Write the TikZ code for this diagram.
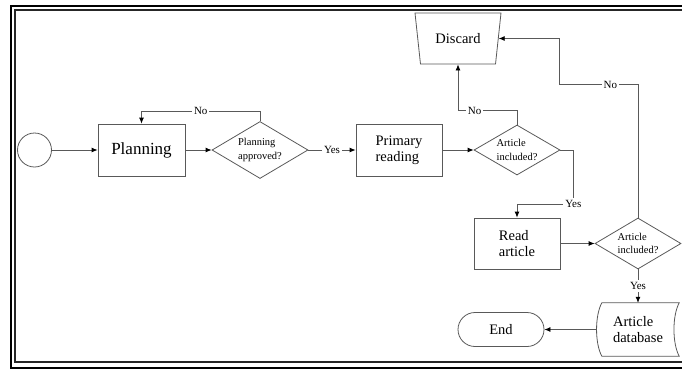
\documentclass[tikz,border=0pt]{standalone}
\usepackage{fontspec}
\setmainfont{Liberation Serif}
\usetikzlibrary{positioning,shapes.geometric,arrows.meta}

\begin{document}
\begin{tikzpicture}[x=1pt,y=-1pt,
    box/.style={draw=black!65,line width=0.8pt,rectangle,minimum width=86pt,minimum height=52pt,align=left,font=\fontsize{14.5}{16}\selectfont},
    decision/.style={draw=black!65,line width=0.8pt,diamond,aspect=1.7,inner sep=0pt,align=left,font=\fontsize{10.5}{13.5}\selectfont},
    line/.style={draw=black!65,line width=0.8pt},
    arr/.style={-{Latex[black,length=6pt,width=5pt]}},
    lbl/.style={fill=white,inner sep=2pt,font=\fontsize{11}{12}\selectfont}]
    \useasboundingbox (0,0) rectangle (682,370);
    \clip (0,0) rectangle (682,370);
    % frame
    \draw[line width=2.3pt] (11,6) rectangle (720,368);
    \draw[black!85,line width=1.3pt] (15,10) rectangle (720,362);

        \node[draw=black!65,line width=0.8pt,circle,minimum size=34pt] (start) at (34.5,150) {};
        \node[box,minimum width=87pt,font=\fontsize{17}{19}\selectfont,right of=start,node distance=107pt] (plan) {Planning};
        \node[decision,minimum width=96pt,minimum height=57pt,right of=plan,node distance=118.5pt] (appr) {Planning\\approved?};
        \node[box,right of=appr,node distance=139pt] (prim) {Primary\\reading};
        \node[decision,minimum width=86pt,minimum height=50pt,right of=prim,node distance=118pt] (inc1) {Article\\included?};
        \node[draw=black!65,line width=0.8pt,trapezium,trapezium angle=72,trapezium stretches body=true,shape border rotate=180,minimum width=86pt,minimum height=51pt,font=\fontsize{14.5}{16}\selectfont] (disc) at (458,38.5) {Discard};
        \node[box,minimum height=51pt,below of=inc1,node distance=93.5pt] (read) {Read\\article};
        \node[decision,minimum width=86pt,minimum height=51pt,right of=read,node distance=121pt] (inc2) {Article\\included?};
        \node[minimum width=82pt,minimum height=53pt,align=left,font=\fontsize{14.5}{16}\selectfont,below of=inc2,node distance=86pt] (db) {Article\\database};
        \node[draw=black!65,line width=0.8pt,rounded corners=17pt,minimum width=86pt,minimum height=34pt,font=\fontsize{14.5}{16}\selectfont,left of=db,node distance=137pt] (endn) {End};

        % stored data outline
        \draw[line] ([xshift=5pt]db.north west) -- (db.north east) .. controls +(-7,13) and +(-7,-13) .. (db.south east) -- ([xshift=5pt]db.south west) .. controls +(-7,-13) and +(-7,13) .. ([xshift=5pt]db.north west) -- cycle;

        \draw[line,arr] (start) -- (plan);
        \draw[line,arr] (plan) -- (appr);
        \draw[line,arr] (appr.north) -- ++(0,-10) -| node[lbl,pos=0.25]{No} (plan.north);
        \draw[line,arr] (appr) -- node[lbl]{Yes} (prim);
        \draw[line,arr] (prim) -- (inc1);
        \draw[line,arr] (inc1.north) -- ++(0,-14) -| node[lbl,pos=0.36]{No} (disc.south);
        \draw[line,arr] (inc1.east) -- ++(13,0) -- ++(0,54) node[lbl]{Yes} -| (read.north);
        \draw[line,arr] (read) -- (inc2);
        \draw[line,arr] (inc2.north) -- ++(0,-133) -- node[lbl,pos=0.35]{No} ++(-79,0) |- (disc.east);
        \draw[line,arr] (inc2.south) -- node[lbl]{Yes} (inc2.south |- db.north);
        \draw[line,arr] (db.west) -- (endn.east);
\end{tikzpicture}
\end{document}
